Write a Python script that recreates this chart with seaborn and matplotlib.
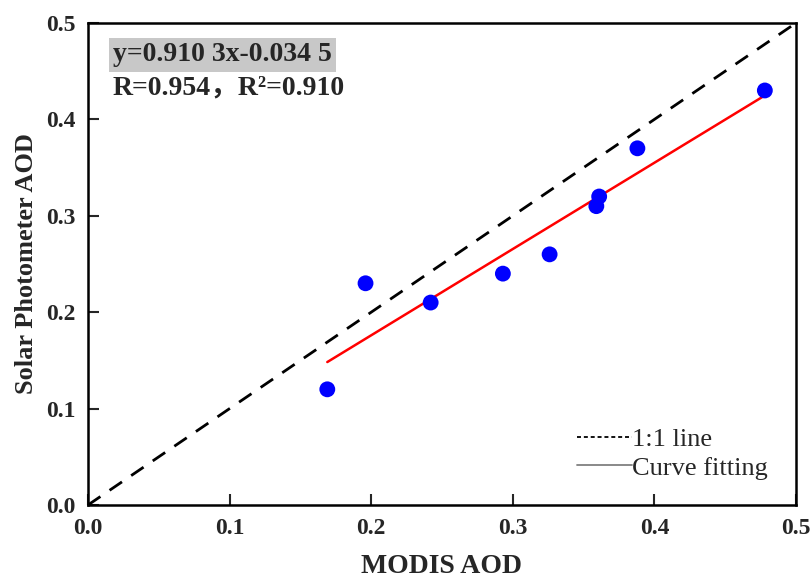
import numpy as np
import pandas as pd
import matplotlib
matplotlib.use("Agg")
import matplotlib.pyplot as plt
from matplotlib.lines import Line2D
import seaborn as sns

# MODIS vs. sun-photometer aerosol optical depth
modis_aod = [0.169, 0.196, 0.242, 0.293, 0.326, 0.359, 0.361, 0.388, 0.478]
photometer_aod = [0.12, 0.23, 0.21, 0.24, 0.26, 0.31, 0.32, 0.37, 0.43]
tick_values = [0.0, 0.1, 0.2, 0.3, 0.4, 0.5]
tick_labels = ["0.0", "0.1", "0.2", "0.3", "0.4", "0.5"]
equation_text = "y=0.910 3x-0.034 5"
stats_text = "R=0.954，R²=0.910"

df = pd.DataFrame({"MODIS AOD": modis_aod, "Solar Photometer AOD": photometer_aod})

sns.set_theme(style="white")
serif = ["Liberation Serif", "DejaVu Serif"]
plt.rcParams["font.family"] = serif

fig = plt.figure(figsize=(8.11, 5.79), dpi=100)
ax = fig.add_axes([0.1085, 0.1278, 0.873, 0.8325])

# 1:1 reference line
ax.plot([0, 0.5], [0, 0.5], color="black", lw=2, ls=(0, (5.4, 4)), zorder=1)

# least-squares fit (red) and observations (blue)
sns.regplot(data=df, x="MODIS AOD", y="Solar Photometer AOD", ax=ax, ci=None,
            truncate=True, scatter=False, line_kws=dict(color="red", lw=1.8, zorder=2))
sns.scatterplot(data=df, x="MODIS AOD", y="Solar Photometer AOD", ax=ax,
                color="blue", s=130, edgecolor="none", zorder=3)

ax.set_xlim(0, 0.5)
ax.set_ylim(0, 0.5)
ax.set_xticks(tick_values)
ax.set_xticklabels(tick_labels)
ax.set_yticks(tick_values)
ax.set_yticklabels(tick_labels)
ax.tick_params(axis="both", direction="in", length=8, width=1.5, labelsize=17,
               bottom=True, left=True, top=False, right=False, pad=9)
for lab in ax.get_xticklabels() + ax.get_yticklabels():
    lab.set_fontweight("bold")

for sp in ax.spines.values():
    sp.set_visible(True)
    sp.set_color("black")
    sp.set_linewidth(1.8)

ax.set_xlabel("MODIS AOD", fontsize=20, fontweight="bold", labelpad=11)
ax.set_ylabel("Solar Photometer AOD", fontsize=19, fontweight="bold", labelpad=6)

# regression equation and statistics
ax.text(0.0353, 0.9336, equation_text, transform=ax.transAxes, fontsize=20,
        fontweight="bold", va="center", ha="left",
        bbox=dict(facecolor="#c8c8c8", edgecolor="none", boxstyle="square,pad=0.15"))
ax.text(0.0353, 0.865, stats_text, transform=ax.transAxes, fontsize=20,
        fontweight="bold", va="center", ha="left",
        family=["Liberation Serif", "Noto Sans CJK SC"])

handles = [Line2D([], [], color="black", lw=1.3, ls=(0, (2.2, 1.6))),
           Line2D([], [], color="gray", lw=1.3)]
ax.legend(handles, ["1:1 line", "Curve fitting"], loc="upper left",
          bbox_to_anchor=(0.69, 0.161), frameon=False, fontsize=19,
          borderpad=0, borderaxespad=0,
          handlelength=2.1, handletextpad=0.0, labelspacing=0.2)

fig.savefig("out.png", dpi=100)
